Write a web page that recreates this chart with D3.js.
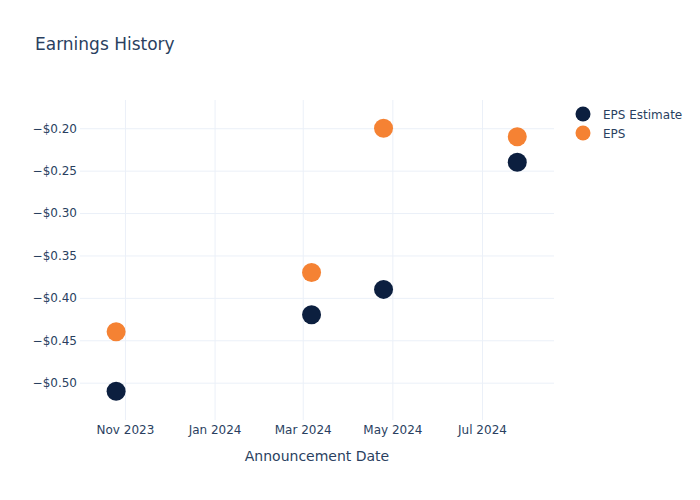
<!DOCTYPE html>
<html>
<head>
<meta charset="utf-8">
<script src="https://cdn.jsdelivr.net/npm/d3@7/dist/d3.min.js"></script>
<style>
  body { margin: 0; background: #fff; }
  text { font-family: "DejaVu Sans", "Open Sans", Verdana, Arial, sans-serif; }
</style>
</head>
<body>
<svg id="chart" width="700" height="500"></svg>
<script>
// ---- data ----
const dates = ["2023-10-26", "2024-03-07", "2024-04-25", "2024-07-25"];
const epsEstimate = [-0.51, -0.42, -0.39, -0.24];
const epsActual = [-0.44, -0.37, -0.20, -0.21];
const seriesNames = ["EPS Estimate", "EPS"];
const seriesColors = ["#0c1f3f", "#f58233"];
const yTicks = [-0.50, -0.45, -0.40, -0.35, -0.30, -0.25, -0.20];
const xTicks = ["2023-11-01", "2024-01-01", "2024-03-01", "2024-05-01", "2024-07-01"];
const xDomain = ["2023-10-01T10:00", "2024-08-19T00:00"];
const yDomain = [-0.544, -0.1667];

const parse = d3.timeParse("%Y-%m-%d");
const parseT = d3.timeParse("%Y-%m-%dT%H:%M");

const svg = d3.select("#chart");
const margin = {left: 80, top: 100, right: 146, bottom: 80};
const W = 700, H = 500;

const x = d3.scaleTime()
  .domain(xDomain.map(parseT))
  .range([margin.left, W - margin.right]);
const y = d3.scaleLinear()
  .domain(yDomain)
  .range([H - margin.bottom, margin.top]);

const gridColor = "#ebf0f8";
const textColor = "#2a3f5f";

// grid lines via axes
const xGrid = d3.axisBottom(x)
  .tickValues(xTicks.map(parse))
  .tickSize(-(H - margin.top - margin.bottom))
  .tickFormat("");
svg.append("g")
  .attr("transform", `translate(0,${H - margin.bottom})`)
  .call(xGrid)
  .call(g => g.select(".domain").remove())
  .call(g => g.selectAll("line").attr("stroke", gridColor).attr("stroke-width", 1));

const yGrid = d3.axisLeft(y)
  .tickValues(yTicks)
  .tickSize(-(W - margin.left - margin.right))
  .tickFormat("");
svg.append("g")
  .attr("transform", `translate(${margin.left},0)`)
  .call(yGrid)
  .call(g => g.select(".domain").remove())
  .call(g => g.selectAll("line").attr("stroke", gridColor).attr("stroke-width", 1));

// tick labels
const fmtMoney = v => (v < 0 ? "\u2212" : "") + "$" + Math.abs(v).toFixed(2);
const yAxis = d3.axisLeft(y).tickValues(yTicks).tickSize(0).tickPadding(3).tickFormat(fmtMoney);
svg.append("g")
  .attr("transform", `translate(${margin.left},0)`)
  .call(yAxis)
  .call(g => g.select(".domain").remove())
  .call(g => g.selectAll("text")
    .attr("fill", textColor)
    .style("font-size", "12px")
    .style("font-family", '"DejaVu Sans", sans-serif'));

const xAxis = d3.axisBottom(x).tickValues(xTicks.map(parse)).tickSize(0).tickPadding(5)
  .tickFormat(d3.timeFormat("%b %Y"));
svg.append("g")
  .attr("transform", `translate(0,${H - margin.bottom})`)
  .call(xAxis)
  .call(g => g.select(".domain").remove())
  .call(g => g.selectAll("text")
    .attr("fill", textColor)
    .style("font-size", "12px")
    .style("font-family", '"DejaVu Sans", sans-serif'));

// axis title
svg.append("text")
  .attr("x", (margin.left + W - margin.right) / 2)
  .attr("y", 461)
  .attr("text-anchor", "middle")
  .attr("fill", textColor)
  .style("font-size", "14px")
  .text("Announcement Date");

// chart title
svg.append("text")
  .attr("x", 35)
  .attr("y", 50)
  .attr("fill", textColor)
  .style("font-size", "17px")
  .text("Earnings History");

// markers
const allSeries = [epsEstimate, epsActual];
allSeries.forEach((vals, si) => {
  svg.append("g")
    .selectAll("circle")
    .data(vals)
    .join("circle")
    .attr("cx", (d, i) => x(parse(dates[i])))
    .attr("cy", d => y(d))
    .attr("r", 9.5)
    .attr("fill", seriesColors[si]);
});

// legend
const legend = svg.append("g").attr("transform", "translate(583,114)");
seriesNames.forEach((name, i) => {
  const g = legend.append("g").attr("transform", `translate(0,${i * 19})`);
  g.append("circle").attr("r", 7.5).attr("fill", seriesColors[i]);
  g.append("text")
    .attr("x", 20)
    .attr("y", 4.5)
    .attr("fill", textColor)
    .style("font-size", "12px")
    .text(name);
});
</script>
</body>
</html>
